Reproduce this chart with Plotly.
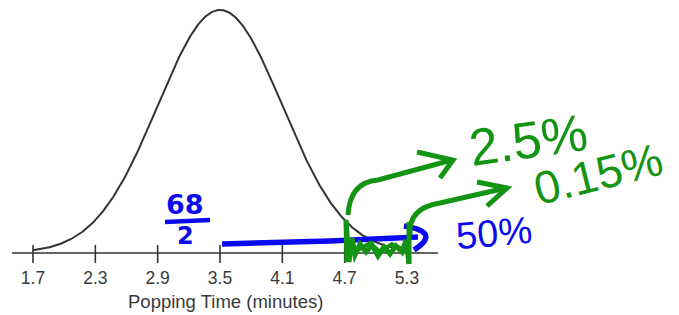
import numpy as np
import plotly.graph_objects as go

# ---- data ----
mean = 3.5
sd = 0.6
tick_values = [1.7, 2.3, 2.9, 3.5, 4.1, 4.7, 5.3]
tick_labels = ["1.7", "2.3", "2.9", "3.5", "4.1", "4.7", "5.3"]
axis_title = "Popping Time (minutes)"
note_half = ("68", "2")
note_50 = "50%"
note_25 = "2.5%"
note_015 = "0.15%"

xs = np.linspace(mean - 3 * sd, mean + 3 * sd, 500)
ys = np.exp(-0.5 * ((xs - mean) / sd) ** 2) / (sd * np.sqrt(2 * np.pi))
peak = 1 / (sd * np.sqrt(2 * np.pi))

# ---- pixel helpers for decoration placement ----
W, H = 679, 315
PLOT_BOTTOM = 265
BASE_PX = 253
SX = (407 - 33) / 3.6
X0 = 1.7 - 33 / SX
K = peak / (BASE_PX - 10)


def X(p):
    return X0 + p / SX


def Y(p):
    return (BASE_PX - p) * K


def PY(p):
    return (PLOT_BOTTOM - p) / PLOT_BOTTOM


def path(pts):
    s = "M {},{}".format(X(pts[0][0]), Y(pts[0][1]))
    for (a, b) in pts[1:]:
        s += " L {},{}".format(X(a), Y(b))
    return s


def qpath(segs):
    out = []
    for seg in segs:
        c = seg[0]
        coords = " ".join("{},{}".format(X(a), Y(b)) for (a, b) in seg[1:])
        out.append(c + " " + coords)
    return " ".join(out)


fig = go.Figure()
fig.add_trace(go.Scatter(x=xs, y=ys, mode="lines",
                         line=dict(color="#333333", width=2), hoverinfo="skip",
                         showlegend=False))

shapes = []
dark = "#333333"
shapes.append(dict(type="line", xref="x", yref="y", x0=X(12), x1=X(438), y0=0, y1=0,
                   line=dict(color=dark, width=1.6)))
for tv in tick_values:
    shapes.append(dict(type="line", xref="x", yref="y", x0=tv, x1=tv,
                       y0=Y(245), y1=Y(263), line=dict(color=dark, width=1.6)))

blue = "#0b0bef"
green = "#139413"

shapes.append(dict(type="line", xref="x", yref="y", x0=X(165), x1=X(210), y0=Y(222), y1=Y(220),
                   line=dict(color=blue, width=4.5)))
shapes.append(dict(type="path", xref="x", yref="y",
                   path=path([(222, 244), (330, 241), (418, 237)]),
                   line=dict(color=blue, width=5.5)))
shapes.append(dict(type="path", xref="x", yref="y",
                   path=qpath([("M", (404, 226)), ("Q", (442, 232), (414, 250))]),
                   line=dict(color=blue, width=5.5)))

shapes.append(dict(type="path", xref="x", yref="y",
                   path=path([(347, 262), (346, 220), (349, 262), (352, 238), (355, 255), (360, 244),
                              (366, 252), (372, 245), (378, 256), (384, 247), (390, 254), (396, 246),
                              (402, 252), (406, 240), (409, 264), (409, 222)]),
                   line=dict(color=green, width=5)))
shapes.append(dict(type="path", xref="x", yref="y",
                   path=path([(350, 245), (358, 250), (370, 243), (380, 252), (392, 244), (404, 250)]),
                   line=dict(color=green, width=4)))
shapes.append(dict(type="path", xref="x", yref="y",
                   path=qpath([("M", (348, 215)), ("Q", (350, 182), (378, 180)), ("L", (452, 160))]),
                   line=dict(color=green, width=5)))
shapes.append(dict(type="path", xref="x", yref="y",
                   path=path([(417, 152), (453, 160), (440, 178)]),
                   line=dict(color=green, width=5)))
shapes.append(dict(type="path", xref="x", yref="y",
                   path=qpath([("M", (410, 235)), ("Q", (408, 208), (440, 203)), ("L", (506, 188))]),
                   line=dict(color=green, width=5)))
shapes.append(dict(type="path", xref="x", yref="y",
                   path=path([(477, 182), (507, 188), (487, 206)]),
                   line=dict(color=green, width=5)))

annotations = []
annotations.append(dict(x=X(225), y=PY(301), xref="x", yref="paper", text=axis_title,
                        showarrow=False, yanchor="middle",
                        font=dict(family="Liberation Sans, Arial", size=18.5, color="#3a3a3a")))
annotations.append(dict(x=X(185), y=Y(204), xref="x", yref="y", text="<b>%s</b>" % note_half[0],
                        showarrow=False, font=dict(family="DejaVu Sans", size=27, color=blue)))
annotations.append(dict(x=X(185), y=Y(236), xref="x", yref="y", text="<b>%s</b>" % note_half[1],
                        showarrow=False, font=dict(family="DejaVu Sans", size=24, color=blue)))
annotations.append(dict(x=X(494), y=Y(233), xref="x", yref="y", text=note_50, showarrow=False,
                        textangle=-5,
                        font=dict(family="Liberation Sans, Arial", size=38, color=blue)))
annotations.append(dict(x=X(528), y=Y(140), xref="x", yref="y", text=note_25, showarrow=False,
                        textangle=-8,
                        font=dict(family="Liberation Sans, Arial", size=52, color=green)))
annotations.append(dict(x=X(598), y=Y(174), xref="x", yref="y", text=note_015, showarrow=False,
                        textangle=-14,
                        font=dict(family="Liberation Sans, Arial", size=46, color=green)))

fig.update_layout(
    width=W, height=H,
    margin=dict(l=0, r=0, t=0, b=H - PLOT_BOTTOM, pad=0),
    paper_bgcolor="white", plot_bgcolor="white",
    showlegend=False,
    shapes=shapes,
    annotations=annotations,
    xaxis=dict(range=[X(0), X(W)], tickvals=tick_values, ticktext=tick_labels,
               showgrid=False, zeroline=False, showline=False, ticks="",
               tickfont=dict(family="Liberation Sans, Arial", size=17.5, color="#3a3a3a"),
               fixedrange=True),
    yaxis=dict(range=[Y(PLOT_BOTTOM), Y(0)], visible=False, showgrid=False, zeroline=False,
               fixedrange=True),
)

fig.write_html("out.html", config={"displayModeBar": False},
               post_script="document.body.style.margin='0px';")
